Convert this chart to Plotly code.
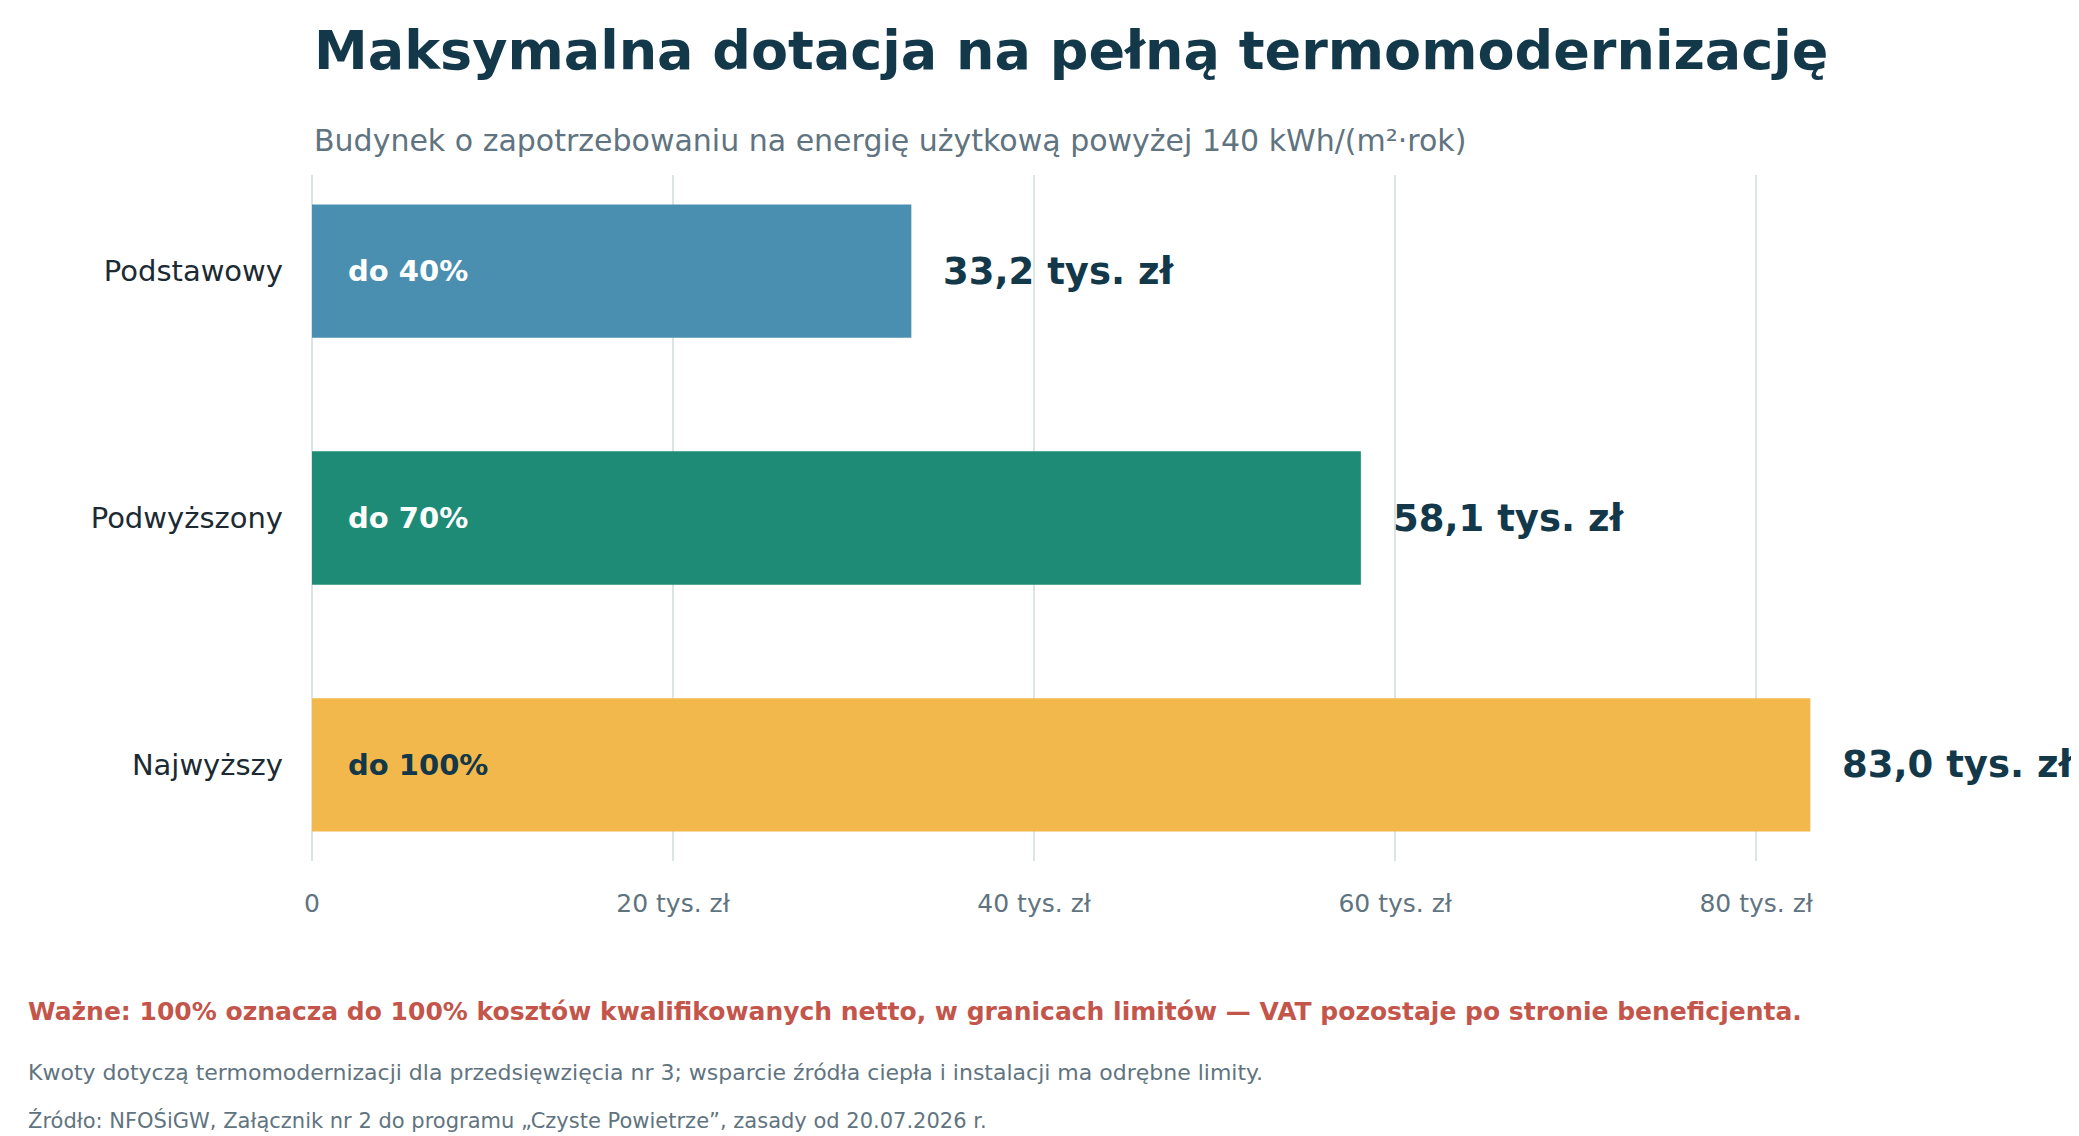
import plotly.graph_objects as go

categories = ["Podstawowy", "Podwyższony", "Najwyższy"]
values = [33.2, 58.1, 83.0]
value_labels = ["33,2 tys. zł", "58,1 tys. zł", "83,0 tys. zł"]
inner_labels = ["do 40%", "do 70%", "do 100%"]
colors = ["#4A8FAF", "#1E8B77", "#F2B84B"]
inner_colors = ["white", "white", "#12384A"]
tick_vals = [0, 20, 40, 60, 80]
tick_text = ["0", "20 tys. zł", "40 tys. zł", "60 tys. zł", "80 tys. zł"]

F = "DejaVu Sans"
NAVY = "#12384A"
GREY = "#5F7480"

fig = go.Figure(go.Bar(
    x=values, y=categories, orientation="h", width=0.54,
    marker=dict(color=colors, line=dict(width=0)),
    hoverinfo="skip",
))

for c, v, vl, il, ic in zip(categories, values, value_labels, inner_labels, inner_colors):
    fig.add_annotation(x=v, y=c, text=f"<b>{vl}</b>", showarrow=False, xanchor="left",
                       xshift=30, font=dict(family=F, size=37, color=NAVY))
    fig.add_annotation(x=0, y=c, text=f"<b>{il}</b>", showarrow=False, xanchor="left",
                       xshift=34, font=dict(family=F, size=29, color=ic))

fig.add_annotation(xref="paper", yref="paper", x=0, y=1.181, xanchor="left", yanchor="middle",
                   text="<b>Maksymalna dotacja na pełną termomodernizację</b>", showarrow=False,
                   font=dict(family=F, size=54, color=NAVY))
fig.add_annotation(xref="paper", yref="paper", x=0, y=1.051, xanchor="left", yanchor="middle",
                   text="Budynek o zapotrzebowaniu na energię użytkową powyżej 140 kWh/(m²·rok)",
                   showarrow=False, font=dict(family=F, size=30, color=GREY))
fig.add_annotation(xref="paper", yref="paper", x=-0.167, y=-0.220, xanchor="left", yanchor="middle",
                   text="<b>Ważne: 100% oznacza do 100% kosztów kwalifikowanych netto, w granicach limitów — VAT pozostaje po stronie beneficjenta.</b>",
                   showarrow=False, font=dict(family=F, size=25, color="#C4554A"))
fig.add_annotation(xref="paper", yref="paper", x=-0.167, y=-0.309, xanchor="left", yanchor="middle",
                   text="Kwoty dotyczą termomodernizacji dla przedsięwzięcia nr 3; wsparcie źródła ciepła i instalacji ma odrębne limity.",
                   showarrow=False, font=dict(family=F, size=22, color=GREY))
fig.add_annotation(xref="paper", yref="paper", x=-0.167, y=-0.379, xanchor="left", yanchor="middle",
                   text="Źródło: NFOŚiGW, Załącznik nr 2 do programu „Czyste Powietrze”, zasady od 20.07.2026 r.",
                   showarrow=False, font=dict(family=F, size=21, color=GREY))

fig.update_layout(
    width=2079, height=1136,
    margin=dict(l=304, r=60, t=167, b=283),
    paper_bgcolor="white", plot_bgcolor="white",
    showlegend=False,
    xaxis=dict(range=[0, 95], tickvals=tick_vals, ticktext=tick_text, showgrid=True,
               gridcolor="#DCE5E6", gridwidth=2, zeroline=True, zerolinecolor="#DCE5E6",
               zerolinewidth=2, showline=False, ticks="", ticklabelstandoff=25,
               tickfont=dict(family=F, size=25, color=GREY)),
    yaxis=dict(range=[2.39, -0.39], showgrid=False, zeroline=False, ticks="",
               ticklabelstandoff=28, tickfont=dict(family=F, size=29, color="#1B2A33")),
)

fig.write_html("out.html")
